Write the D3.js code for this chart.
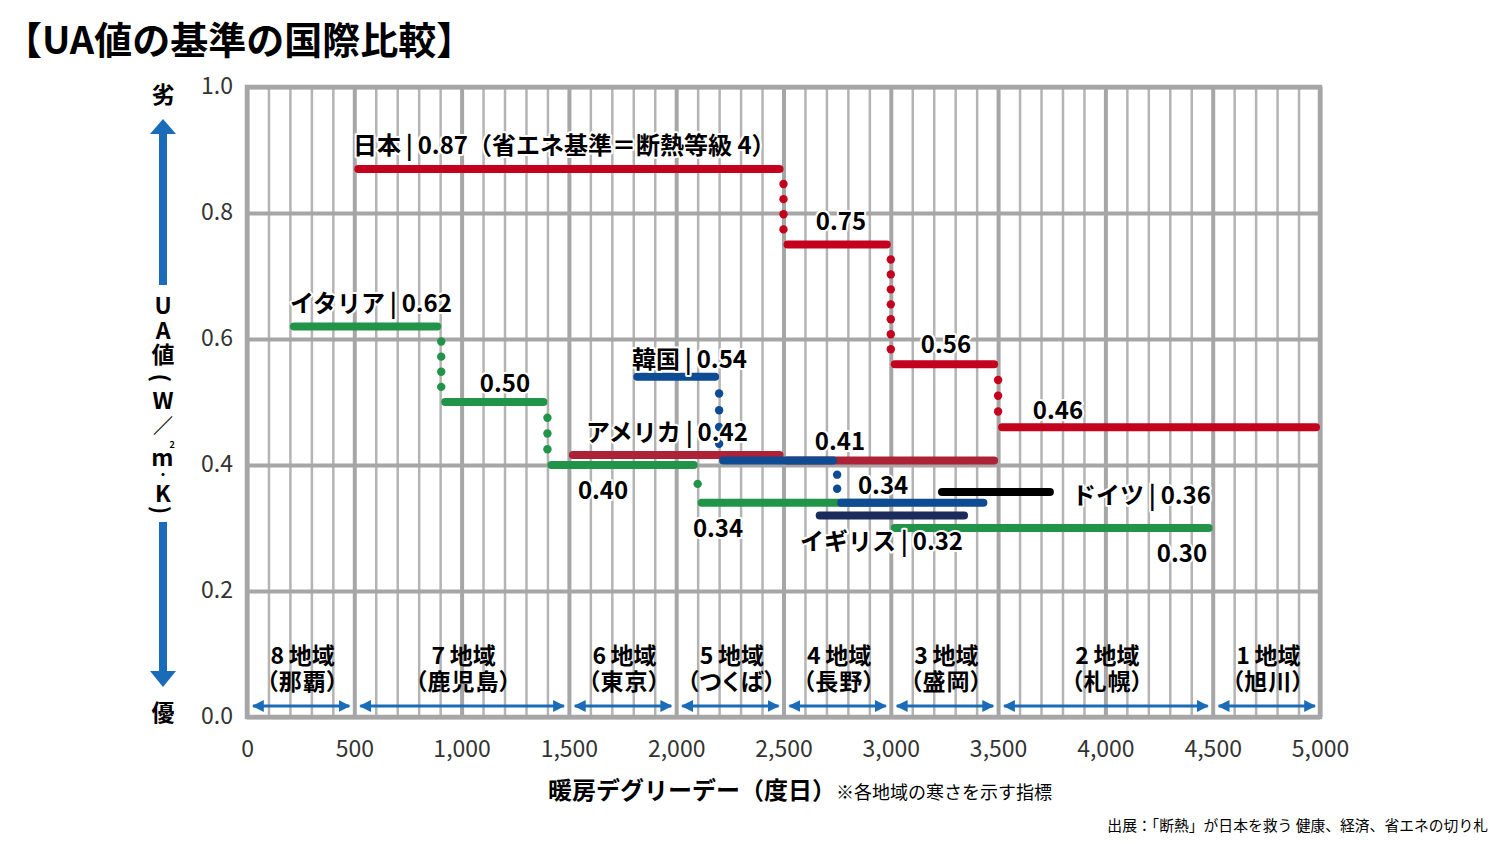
<!DOCTYPE html>
<html><head><meta charset="utf-8">
<script src="https://cdn.jsdelivr.net/npm/d3@7"></script>
<style>
body{margin:0;background:#fff;}
svg text{font-family:"Noto Sans CJK JP","Noto Sans",sans-serif;}
.palt{font-feature-settings:"palt";}
</style></head><body>
<svg id="c" width="1500" height="844"></svg>
<script>
// ---------- data ----------
const yTicks = [0, 0.2, 0.4, 0.6, 0.8, 1.0];
const xTicks = [0, 500, 1000, 1500, 2000, 2500, 3000, 3500, 4000, 4500, 5000];
const zoneBounds = [0, 500, 1500, 2000, 2500, 3000, 3500, 4500, 5000];
const zoneNames = ["8\u2009地域", "7\u2009地域", "6\u2009地域", "5\u2009地域", "4\u2009地域", "3\u2009地域", "2\u2009地域", "1\u2009地域"];
const zoneCities = ["（那覇）", "（鹿児島）", "（東京）", "（つくば）", "（長野）", "（盛岡）", "（札幌）", "（旭川）"];
// segments: [start HDD, end HDD, UA]
const japan   = [[500, 2500, 0.87], [2500, 3000, 0.75], [3000, 3500, 0.56], [3500, 5000, 0.46]];
const italy   = [[200, 905, 0.62], [905, 1400, 0.50], [1400, 2100, 0.40], [2100, 3000, 0.34], [3000, 4500, 0.30]];
const usa     = [[1500, 2500, 0.416], [2500, 3500, 0.407]];
const korea   = [[1800, 2200, 0.54], [2200, 2750, 0.407], [2750, 3450, 0.34]];
const uk      = [[2650, 3360, 0.32]];
const germany = [[3220, 3760, 0.357]];
// indices of segments preceded by a dotted step
const japanSteps = [1, 2, 3];
const italySteps = [1, 2, 3];
const koreaSteps = [1, 2];
// labels: [text, HDD, UA, anchor]
const SEP = "\u2009|\u2009";
const labels = [
  ["日本" + SEP + "0.87（省エネ基準＝断熱等級 4）", 494, 0.911, "start"],
  ["0.75", 2768, 0.789, "middle"],
  ["0.56", 3257, 0.595, "middle"],
  ["0.46", 3779, 0.489, "middle"],
  ["イタリア" + SEP + "0.62", 200, 0.659, "start"],
  ["0.50", 1202, 0.533, "middle"],
  ["韓国" + SEP + "0.54", 1794, 0.571, "start"],
  ["アメリカ" + SEP + "0.42", 1580, 0.454, "start"],
  ["0.41", 2763, 0.440, "middle"],
  ["0.40", 1659, 0.362, "middle"],
  ["0.34", 2195, 0.303, "middle"],
  ["0.34", 2964, 0.370, "middle"],
  ["ドイツ" + SEP + "0.36", 3844, 0.354, "start"],
  ["イギリス" + SEP + "0.32", 2577, 0.281, "start"],
  ["0.30", 4357, 0.262, "middle"]
];
const yLabelChars = ["U", "A", "値", "(", "W", "／", "m", "・", "K", ")"];

// ---------- drawing ----------
const svg = d3.select("#c");
const x = d3.scaleLinear().domain([0, 5000]).range([247, 1320]);
const y = d3.scaleLinear().domain([0, 1]).range([717, 87]);
const H = y(0) - y(1);
const gridColor = "#a6a6a6";
const blue = "#1a6cb9";

// title
svg.append("text").attr("x", 4).attr("y", 54).attr("font-size", 38).attr("font-weight", 700)
  .attr("fill", "#000").text("【UA値の基準の国際比較】");

// minor vertical grid
const gMinor = svg.append("g").attr("transform", `translate(0,${y(0)})`)
  .call(d3.axisBottom(x).tickValues(d3.range(0, 5001, 100)).tickSize(-H).tickFormat(""));
gMinor.select(".domain").remove();
gMinor.selectAll("line").attr("stroke", "#b4b4b4").attr("stroke-width", 2.5);
// major vertical grid
const gMajor = svg.append("g").attr("transform", `translate(0,${y(0)})`)
  .call(d3.axisBottom(x).tickValues(xTicks).tickSize(-H).tickFormat(""));
gMajor.select(".domain").remove();
gMajor.selectAll("line").attr("stroke", gridColor).attr("stroke-width", 4);
// horizontal grid
const gH = svg.append("g").attr("transform", `translate(${x(0)},0)`)
  .call(d3.axisLeft(y).tickValues(yTicks).tickSize(-(x(5000) - x(0))).tickFormat(""));
gH.select(".domain").remove();
gH.selectAll("line").attr("stroke", gridColor).attr("stroke-width", 4);
// frame
svg.append("rect").attr("x", x(0)).attr("y", y(1)).attr("width", x(5000) - x(0)).attr("height", H)
  .attr("fill", "none").attr("stroke", gridColor).attr("stroke-width", 4.5);

// tick labels
const yAx = svg.append("g").attr("transform", `translate(${x(0)},0)`)
  .call(d3.axisLeft(y).tickValues(yTicks).tickFormat(d3.format(".1f")).tickSize(0).tickPadding(14));
yAx.select(".domain").remove();
yAx.selectAll("text").attr("font-size", 23).attr("fill", "#333").attr("font-family", "'Noto Sans CJK JP'").attr("dy", "0.28em");
const xAx = svg.append("g").attr("transform", `translate(0,${y(0)})`)
  .call(d3.axisBottom(x).tickValues(xTicks).tickFormat(d3.format(",")).tickSize(0).tickPadding(24));
xAx.select(".domain").remove();
xAx.selectAll("text").attr("font-size", 23).attr("fill", "#333").attr("font-family", "'Noto Sans CJK JP'");

// arrow markers
const defs = svg.append("defs");
defs.append("marker").attr("id", "ah").attr("viewBox", "0 0 10 10").attr("refX", 9).attr("refY", 5)
  .attr("markerWidth", 4).attr("markerHeight", 4).attr("orient", "auto-start-reverse")
  .append("path").attr("d", "M0,0 L10,5 L0,10 z").attr("fill", blue);

// zones
zoneNames.forEach((n, i) => {
  const a = zoneBounds[i], b = zoneBounds[i + 1];
  const cx = (x(a) + x(b)) / 2 + 2;
  svg.append("line").attr("x1", x(a) + 6).attr("x2", x(b) - 5).attr("y1", 706).attr("y2", 706)
    .attr("stroke", blue).attr("stroke-width", 3)
    .attr("marker-start", "url(#ah)").attr("marker-end", "url(#ah)");
  const t = svg.append("g").attr("font-size", 23).attr("font-weight", 700).attr("text-anchor", "middle");
  t.append("text").attr("x", cx).attr("y", 664).text(n);
  t.append("text").attr("class", "palt").attr("x", cx).attr("y", 690).attr("letter-spacing", 1).text(zoneCities[i]);
});

// series
function drawSeries(segs, color, steps) {
  const g = svg.append("g");
  const w = 8;
  g.selectAll("line").data(segs).join("line")
    .attr("x1", d => x(d[0]) + w / 2).attr("x2", d => x(d[1]) - w / 2)
    .attr("y1", d => y(d[2])).attr("y2", d => y(d[2]))
    .attr("stroke", color).attr("stroke-width", w).attr("stroke-linecap", "round");
  (steps || []).forEach(i => {
    const xs = x(segs[i][0]);
    const y1 = y(segs[i - 1][2]), y2 = y(segs[i][2]);
    const n = Math.max(1, Math.round(Math.abs(y2 - y1) / 15.5) - 1);
    const pts = d3.range(1, n + 1).map(k => y1 + (y2 - y1) * k / (n + 1));
    g.selectAll(null).data(pts).join("circle").attr("cx", xs).attr("cy", d => d)
      .attr("r", 4.2).attr("fill", color);
  });
}
drawSeries(japan, "#c4001f", japanSteps);
drawSeries(usa, "#ad2237", null);
drawSeries(italy, "#21944a", italySteps);
drawSeries(uk, "#1b2b5c", null);
drawSeries(korea, "#0e4b93", koreaSteps);
drawSeries(germany, "#000000", null);

// labels
svg.append("g").selectAll("text").data(labels).join("text")
  .attr("x", d => x(d[1])).attr("y", d => y(d[2])).attr("text-anchor", d => d[3])
  .attr("dominant-baseline", "central").attr("font-size", 24).attr("font-weight", 700)
  .attr("fill", "#000").attr("stroke", "#fff").attr("stroke-width", 4).attr("paint-order", "stroke")
  .attr("stroke-linejoin", "round").text(d => d[0]);

// y axis side label
const ax = 163;
svg.append("text").attr("x", ax).attr("y", 93).attr("text-anchor", "middle").attr("dominant-baseline", "central")
  .attr("font-size", 23).attr("font-weight", 700).text("劣");
svg.append("text").attr("x", ax).attr("y", 711).attr("text-anchor", "middle").attr("dominant-baseline", "central")
  .attr("font-size", 23).attr("font-weight", 700).text("優");
svg.append("path").attr("d", `M${ax - 4},285 L${ax - 4},134 L${ax - 13},134 L${ax},119 L${ax + 13},134 L${ax + 4},134 L${ax + 4},285 Z`).attr("fill", blue);
svg.append("path").attr("d", `M${ax - 4},522 L${ax - 4},671 L${ax - 13},671 L${ax},687 L${ax + 13},671 L${ax + 4},671 L${ax + 4},522 Z`).attr("fill", blue);
const yPos = [304, 329, 353, 378, 399, 424, 456, 474, 492, 510];
const ySize = [23, 23, 23, 22, 23, 20, 23, 12, 23, 22];
yLabelChars.forEach((c, i) => {
  const t = svg.append("text").attr("x", ax).attr("y", yPos[i]).attr("text-anchor", "middle").attr("dominant-baseline", "central")
    .attr("font-size", ySize[i]).attr("font-weight", 700);
  if (c === "(" || c === ")") t.attr("transform", `rotate(90,${ax},${yPos[i]})`);
  t.text(c);
  if (c === "m") t.append("tspan").attr("font-size", 9).attr("dx", -4).attr("dy", -12).text("2");
});

// x axis title
const xt = svg.append("text").attr("x", 548).attr("y", 799).attr("font-weight", 700);
xt.append("tspan").attr("font-size", 24).text("暖房デグリーデー（度日）");
xt.append("tspan").attr("font-size", 18).attr("font-weight", 400).text("※各地域の寒さを示す指標");

// source
svg.append("text").attr("x", 1488).attr("y", 831).attr("text-anchor", "end").attr("font-size", 14.8)
  .text("出展：「断熱」が日本を救う 健康、経済、省エネの切り札");
</script>
</body></html>
